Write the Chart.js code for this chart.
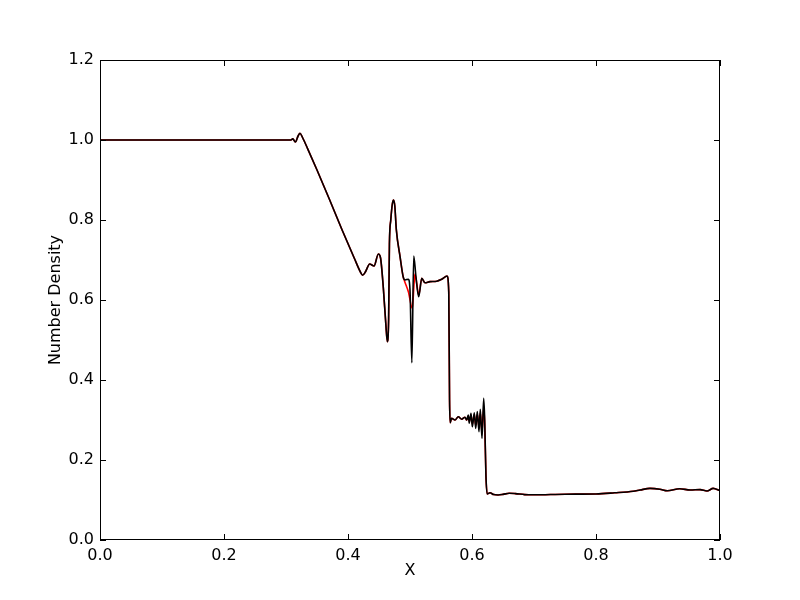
<!DOCTYPE html>
<html>
<head>
<meta charset="utf-8">
<script src="https://cdn.jsdelivr.net/npm/chart.js"></script>
<style>
  html, body { margin: 0; padding: 0; background: #fff; }
  #wrap { width: 800px; height: 600px; }
</style>
</head>
<body>
<div id="wrap"><canvas id="myChart" width="800" height="600"></canvas></div>
<script>
// tramo comun (izquierda)
const xHead = [0, 0.30, 0.308, 0.311, 0.315, 0.3195, 0.3226, 0.327, 0.335, 0.35, 0.37, 0.39, 0.41, 0.42, 0.4235,
  0.428, 0.435, 0.442, 0.449, 0.4525, 0.457, 0.461, 0.4634, 0.4655, 0.4668, 0.469, 0.4715, 0.4735, 0.4755,
  0.478, 0.484, 0.489]
const yHead = [1.0, 1.0, 1.0, 1.003, 0.995, 1.01, 1.017, 1.005, 0.978, 0.925, 0.852, 0.777, 0.705, 0.67, 0.662,
  0.67, 0.69, 0.685, 0.715, 0.705, 0.63, 0.54, 0.496, 0.55, 0.74, 0.8, 0.84, 0.85, 0.835,
  0.775, 0.708, 0.658]

// zona del pico (difieren)
const xMidBlack = [0.492, 0.4973, 0.5, 0.503, 0.506, 0.5095, 0.514]
const yMidBlack = [0.65, 0.652, 0.625, 0.443, 0.71, 0.66, 0.608]
const xMidRed = [0.491, 0.4975, 0.5037, 0.5065, 0.508, 0.511, 0.514]
const yMidRed = [0.648, 0.62, 0.579, 0.64, 0.665, 0.64, 0.612]

// meseta y salto
const xPlateau = [0.519, 0.5242, 0.5323, 0.543, 0.5511, 0.5598, 0.5625, 0.5638, 0.5648,
  0.567, 0.5726, 0.5779, 0.5834, 0.5887, 0.5915]
const yPlateau = [0.654, 0.643, 0.646, 0.647, 0.652, 0.66, 0.62, 0.35, 0.293,
  0.304, 0.30, 0.308, 0.302, 0.307, 0.30]

// oscilaciones
const xOsc = [0.594, 0.5956, 0.5984, 0.6005, 0.6037, 0.606, 0.6086, 0.6113, 0.6134, 0.6161, 0.6189, 0.6205]
const yOscBlack = [0.3125, 0.292, 0.317, 0.283, 0.318, 0.279, 0.321, 0.271, 0.327, 0.254, 0.354, 0.30]
const yOscRed = [0.309, 0.296, 0.312, 0.29, 0.313, 0.287, 0.314, 0.282, 0.318, 0.27, 0.33, 0.29]

// tramo comun (derecha)
const xTail = [0.6225, 0.6245, 0.629, 0.635, 0.642, 0.65, 0.66, 0.67, 0.685, 0.7, 0.75, 0.8, 0.83, 0.86,
  0.871, 0.887, 0.903, 0.915, 0.935, 0.952, 0.968, 0.979, 0.989, 1.0]
const yTail = [0.16, 0.115, 0.118, 0.1135, 0.1125, 0.114, 0.117, 0.116, 0.1135, 0.113, 0.1145, 0.115, 0.118, 0.122,
  0.125, 0.129, 0.127, 0.123, 0.128, 0.125, 0.126, 0.1225, 0.129, 0.123]

const xTicks = [0, 0.2, 0.4, 0.6, 0.8, 1.0]
const yTicks = [0, 0.2, 0.4, 0.6, 0.8, 1.0, 1.2]

const toPts = (xs, ys) => xs.map((x, i) => ({x: x, y: ys[i]}))

const black = [].concat(toPts(xHead, yHead), toPts(xMidBlack, yMidBlack), toPts(xPlateau, yPlateau),
  toPts(xOsc, yOscBlack), toPts(xTail, yTail))
const red = [].concat(toPts(xHead, yHead), toPts(xMidRed, yMidRed), toPts(xPlateau, yPlateau),
  toPts(xOsc, yOscRed), toPts(xTail, yTail))

const fontFam = "'DejaVu Sans', sans-serif"

// marco y ticks hacia dentro, estilo matplotlib
const frame = {
  id: 'frame',
  afterDraw(chart) {
    const {ctx, chartArea: a, scales} = chart
    ctx.save()
    ctx.strokeStyle = '#000'
    ctx.lineWidth = 1
    const L = 6
    xTicks.forEach(v => {
      const px = Math.round(scales.x.getPixelForValue(v)) + 0.5
      ctx.beginPath()
      ctx.moveTo(px, a.bottom); ctx.lineTo(px, a.bottom - L)
      ctx.moveTo(px, a.top); ctx.lineTo(px, a.top + L)
      ctx.stroke()
    })
    yTicks.forEach(v => {
      const py = Math.round(scales.y.getPixelForValue(v)) + 0.5
      ctx.beginPath()
      ctx.moveTo(a.left, py); ctx.lineTo(a.left + L, py)
      ctx.moveTo(a.right, py); ctx.lineTo(a.right - L, py)
      ctx.stroke()
    })
    ctx.strokeRect(a.left + 0.5, a.top + 0.5, a.right - a.left - 1, a.bottom - a.top - 1)
    ctx.restore()
  }
}

new Chart('myChart', {
  type: 'line',
  data: {
    datasets: [
      { data: black, borderColor: '#000', borderWidth: 1.6, pointRadius: 0, fill: false, cubicInterpolationMode: 'monotone' },
      { data: red, borderColor: '#ff0000', borderWidth: 1.6, pointRadius: 0, fill: false, cubicInterpolationMode: 'monotone' }
    ]
  },
  options: {
    responsive: false,
    animation: false,
    layout: { padding: { left: 42, top: 60, right: 80, bottom: 16 } },
    plugins: { legend: { display: false }, tooltip: { enabled: false } },
    scales: {
      x: {
        type: 'linear', min: 0, max: 1,
        afterFit: s => { s.height = 44 },
        afterBuildTicks: s => { s.ticks = xTicks.map(v => ({value: v})) },
        grid: { display: false, drawTicks: false },
        border: { display: false },
        ticks: { padding: 6, color: '#000', font: { family: fontFam, size: 16 }, maxRotation: 0, callback: v => v.toFixed(1) },
        title: { display: true, text: 'X', color: '#000', font: { family: fontFam, size: 16 }, padding: { top: 2, bottom: 4 } }
      },
      y: {
        type: 'linear', min: 0, max: 1.2,
        afterFit: s => { s.width = 58 },
        afterBuildTicks: s => { s.ticks = yTicks.map(v => ({value: v})) },
        grid: { display: false, drawTicks: false },
        border: { display: false },
        ticks: { padding: 6, color: '#000', font: { family: fontFam, size: 16 }, callback: v => v.toFixed(1) },
        title: { display: true, text: 'Number Density', color: '#000', font: { family: fontFam, size: 16 }, padding: { top: 4, bottom: 2 } }
      }
    }
  },
  plugins: [frame]
})
</script>
</body>
</html>
